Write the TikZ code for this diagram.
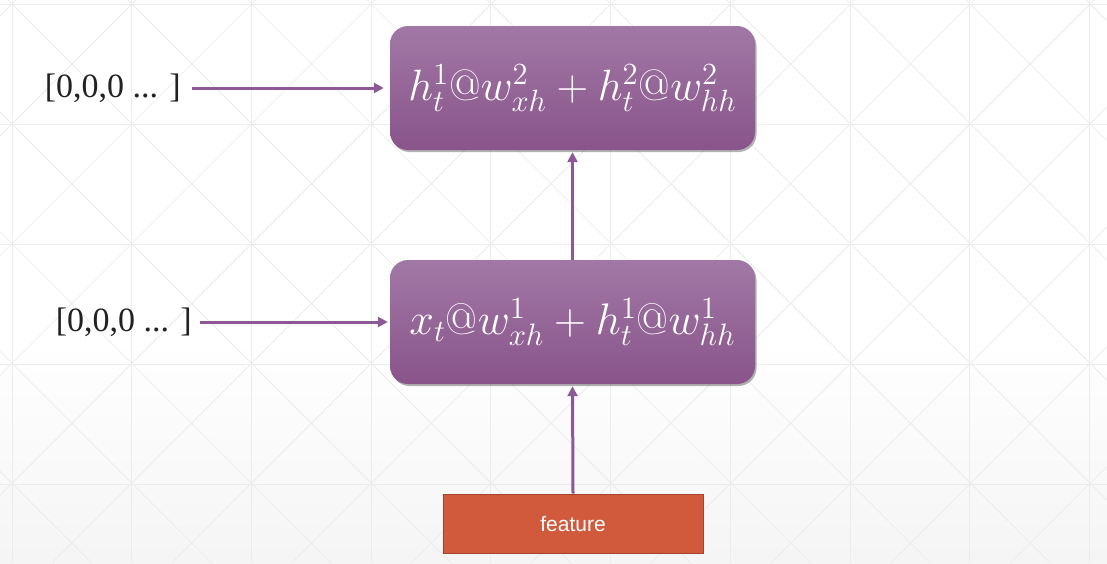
\RequirePackage{fix-cm}
\documentclass[tikz,border=0pt]{standalone}
\usepackage{fontspec}
\newfontfamily\sansf{Liberation Sans}
\newfontfamily\seriff{Liberation Serif}
\usetikzlibrary{shadows,arrows.meta}
\definecolor{boxtop}{RGB}{161,120,165}
\definecolor{boxbot}{RGB}{137,84,139}
\definecolor{arrc}{RGB}{140,88,150}
\definecolor{featfill}{RGB}{208,90,59}
\definecolor{featdraw}{RGB}{165,67,43}
\definecolor{gridc}{RGB}{236,236,236}
\definecolor{lblc}{RGB}{34,34,34}
\begin{document}
\begin{tikzpicture}[x=1pt,y=-1pt,
  gridl/.style={draw=gridc,line width=0.8pt},
  box/.style={rounded corners=18pt,top color=boxtop,bottom color=boxbot,draw=none,
    minimum width=365pt,minimum height=124pt,inner sep=0pt,text=white,
    font=\fontsize{24}{28}\selectfont,
    drop shadow={shadow xshift=1.5pt,shadow yshift=-2pt,opacity=0.3,fill=black}},
  feat/.style={fill=featfill,draw=featdraw,line width=0.8pt,minimum width=260pt,
    minimum height=59pt,inner sep=0pt,text=white,font=\sansf\fontsize{21}{25}\selectfont},
  lbl/.style={inner sep=0pt,text=lblc,font=\seriff\fontsize{34}{40}\selectfont},
  arr/.style={draw=arrc,line width=3pt,-{Triangle[length=10pt,width=10pt]}}]
\useasboundingbox (0,0) rectangle (1107,563);
% background
\fill[white] (0,0) rectangle (1107,340);
\shade[top color=white,bottom color=black!4,draw=none] (0,340) rectangle (1107,563);
\begin{scope}
\clip (0,0) rectangle (1107,563);
\foreach \i in {0,...,9} \draw[gridl] ({12+119.7*\i},0) -- ({12+119.7*\i},563);
\foreach \j in {0,...,4} \draw[gridl] (0,{4+120*\j}) -- (1107,{4+120*\j});
\foreach \i in {-6,...,10} \draw[gridl] ({12+119.8*\i-20},-16) -- ++(700,700);
\foreach \i in {0,...,15} \draw[gridl] ({12+119.8*\i+20},-16) -- ++(-700,700);
\end{scope}
% nodes
\node[box] (b2) at (572.5,88) {\resizebox{328pt}{!}{$h_t^1@w_{xh}^2+h_t^2@w_{hh}^2$}};
\node[box] (b1) at (572.5,322) {\resizebox{326pt}{!}{$x_t@w_{xh}^1+h_t^1@w_{hh}^1$}};
\node[feat] (f) at (573,523.5) {feature};
\node[lbl,anchor=east] (l2) at (181,88) {[0,0,0 ... ]};
\node[lbl,anchor=east] (l1) at (192,322) {[0,0,0 ... ]};
% connectors
\draw[arr,shorten <=11pt,shorten >=6pt] (l2.east) -- (b2.west);
\draw[arr,shorten <=8pt,shorten >=2pt] (l1.east) -- (b1.west);
\draw[arr,shorten >=2pt] (b1.north) -- (b2.south);
\draw[arr,shorten >=2pt] (f.north) -- (b1.south);
\end{tikzpicture}
\end{document}
